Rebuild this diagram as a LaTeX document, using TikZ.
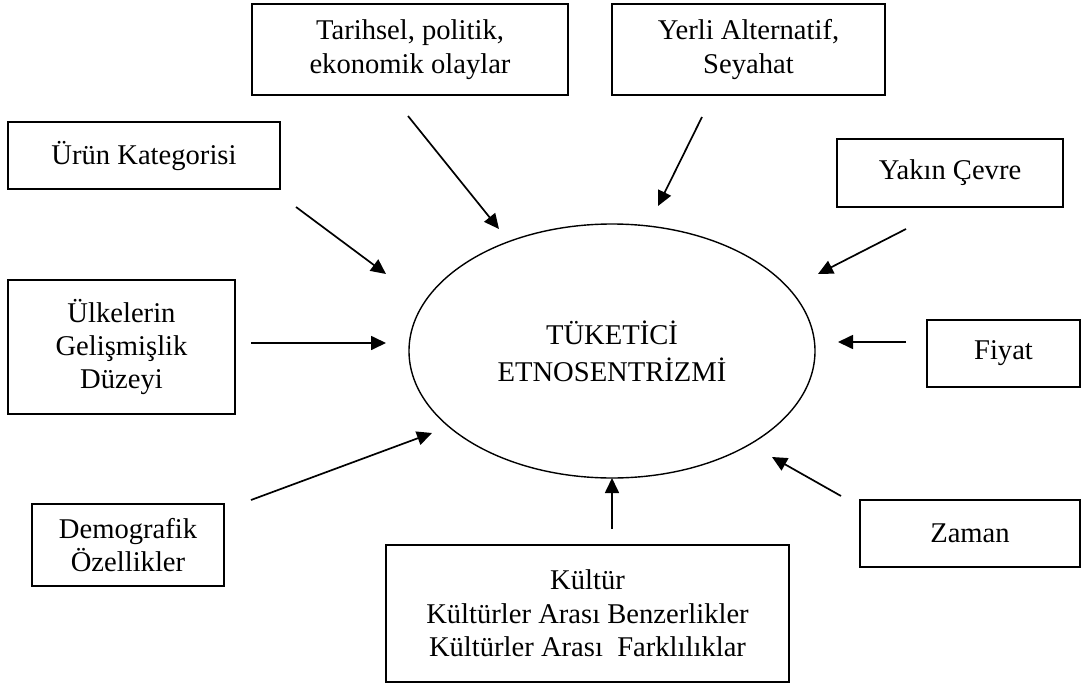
\documentclass[tikz,border=0pt]{standalone}
\usepackage{fontspec}
\setmainfont{Liberation Serif}
\usetikzlibrary{arrows.meta,shapes.geometric}
\begin{document}
\begin{tikzpicture}[x=0.5pt,y=-0.5pt,
  factor/.style={draw,line width=0.75pt,rectangle,inner sep=0pt,align=center,
    font=\fontsize{14.3}{16.7}\selectfont},
  core/.style={draw,line width=0.7pt,ellipse,inner sep=0pt,align=center,
    minimum width=203pt,minimum height=127pt,
    font=\fontsize{14.3}{18.5}\selectfont},
  influence/.style={line width=0.85pt,-{Triangle[length=7.5pt,width=7pt]}}]
\useasboundingbox (0,0) rectangle (1083,686);

% central concept
\node[core] (ce) at (612,351) {TÜKETİCİ\\ETNOSENTRİZMİ};

% influencing factors
\node[factor,minimum width=158pt,minimum height=45.5pt] (tar) at (410,49.5)
  {Tarihsel, politik,\\ekonomik olaylar};
\node[factor,minimum width=136.5pt,minimum height=45.5pt] (yer) at (748.5,49.5)
  {Yerli Alternatif,\\Seyahat};
\node[factor,minimum width=136pt,minimum height=33.5pt] (urun) at (144,155.5)
  {Ürün Kategorisi};
\node[factor,minimum width=113pt,minimum height=34pt] (yak) at (950,173)
  {Yakın Çevre};
\node[factor,minimum width=113.5pt,minimum height=67pt] (ulk) at (121.5,347)
  {Ülkelerin\\Gelişmişlik\\Düzeyi};
\node[factor,minimum width=76.5pt,minimum height=33.5pt] (fiy) at (1003.5,353.5)
  {Fiyat};
\node[factor,minimum width=96pt,minimum height=41pt] (dem) at (128,545)
  {Demografik\\Özellikler};
\node[factor,minimum width=110pt,minimum height=33.5pt] (zam) at (970,533.5)
  {Zaman};
\node[factor,minimum width=201.5pt,minimum height=68.5pt] (kul) at (587.5,613.5)
  {Kültür\\Kültürler Arası Benzerlikler\\Kültürler Arası\ \ Farklılıklar};

% arrow ends
\coordinate (urun-s) at (296,207);  \coordinate (urun-t) at (386,274);
\coordinate (tar-s)  at (408,116);  \coordinate (tar-t)  at (499,229);
\coordinate (yer-s)  at (702,117);  \coordinate (yer-t)  at (658,206);
\coordinate (yak-s)  at (906,229);  \coordinate (yak-t)  at (818,274);
\coordinate (ulk-s)  at (251,343);  \coordinate (ulk-t)  at (386,343);
\coordinate (fiy-s)  at (906,342);  \coordinate (fiy-t)  at (838,342);
\coordinate (dem-s)  at (251,500);  \coordinate (dem-t)  at (432,433);
\coordinate (kul-s)  at (612,529);  \coordinate (kul-t)  at (612,478);
\coordinate (zam-s)  at (841,496);  \coordinate (zam-t)  at (772,457);

\foreach \f in {urun,tar,yer,yak,ulk,fiy,dem,kul,zam}
  \draw[influence] (\f-s) -- (\f-t);
\end{tikzpicture}
\end{document}
